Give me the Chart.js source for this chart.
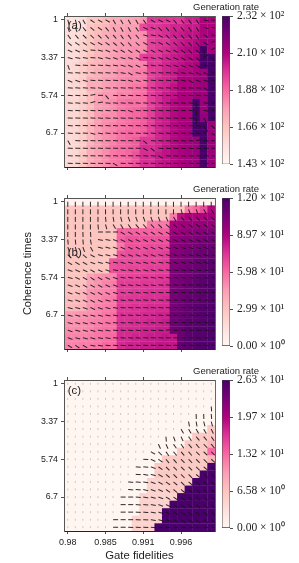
<!DOCTYPE html>
<html><head><meta charset="utf-8">
<script src="https://cdn.jsdelivr.net/npm/chart.js@4/dist/chart.umd.js"></script>
<style>html,body{margin:0;padding:0;background:#fff;width:299px;height:563px;overflow:hidden}canvas{position:absolute;display:block}</style>
</head><body>
<script>
const xTickLabels = ['0.98','0.985','0.991','0.996'];
const yTickLabels = ['1','3.37','5.74','6.7'];
const tickPositions = [0,5,10,15];
const palette = ['#fff7f3','#fde0dd','#fcc5c0','#fa9fb5','#f768a1','#dd3497','#ae017e','#7a0177','#49006a'];

const rateA = [
[152,152,154,163,165,168,172,172,174,175,178,198,198,198,198,198,203,203,210,210],
[153,153,155,165,167,170,174,174,176,176,194,198,198,200,202,202,204,204,210,210],
[155,155,158,165,168,172,175,176,178,178,180,196,198,200,203,204,206,206,210,212],
[155,155,160,165,170,172,175,176,178,178,180,196,198,198,202,204,206,208,212,212],
[156,156,160,165,170,172,175,178,178,180,180,196,198,200,203,206,208,210,232,212],
[156,156,160,166,170,172,176,178,180,180,196,198,198,202,204,206,208,210,232,232],
[156,158,162,168,170,174,176,178,180,180,182,198,198,202,204,206,208,210,232,232],
[156,158,162,168,172,174,176,180,180,182,184,196,198,202,204,208,208,210,212,232],
[156,158,162,172,172,176,178,180,182,182,184,196,200,202,204,210,210,212,214,232],
[156,158,160,172,172,176,178,180,182,184,186,196,200,202,206,210,210,212,214,232],
[156,156,160,168,174,178,178,182,182,184,186,196,200,204,206,210,210,214,214,232],
[158,158,162,168,176,178,180,184,186,186,186,196,200,204,208,210,210,232,214,232],
[158,158,162,168,176,178,180,184,186,188,190,196,202,204,208,210,210,232,214,232],
[158,158,162,168,176,180,180,184,186,188,190,196,202,204,208,210,210,232,216,232],
[158,158,162,170,176,180,182,184,186,188,190,196,202,204,208,210,212,232,232,214],
[156,158,162,170,176,180,182,186,188,188,190,196,202,204,208,210,212,232,232,214],
[156,158,162,170,176,180,182,186,188,190,198,198,202,204,208,210,212,214,232,214],
[156,158,162,172,176,180,184,186,188,190,200,200,202,206,208,210,212,214,232,214],
[156,158,164,172,176,180,184,186,188,192,200,200,204,206,208,210,212,214,232,214],
[156,158,164,172,176,180,184,186,188,192,200,200,204,206,208,210,212,214,232,214]];

const angleA = [
[75,75,60,35,30,30,60,60,60,60,55,30,25,25,50,50,55,55,15,10],
[70,70,50,40,35,50,60,60,60,55,25,20,45,50,55,50,55,55,15,10],
[55,50,45,45,45,50,50,55,55,50,15,10,30,45,50,50,50,60,30,10],
[40,35,35,30,30,35,40,45,50,40,30,10,25,35,40,45,50,50,30,-20],
[25,25,20,5,15,25,25,30,35,30,25,30,25,25,30,35,45,40,80,-30],
[15,10,10,5,15,15,20,15,20,25,5,15,20,25,25,30,30,40,-30,50],
[70,5,5,5,5,10,10,15,25,25,10,10,10,15,20,25,25,30,10,5],
[5,5,5,5,5,5,5,10,30,10,10,5,5,5,10,10,15,20,20,5],
[25,20,15,5,5,5,5,5,15,15,10,5,5,5,5,10,30,20,15,5],
[5,5,5,5,10,5,5,5,5,5,5,5,5,5,5,5,5,5,30,5],
[5,5,5,-10,0,50,5,5,5,5,5,5,5,5,5,5,5,5,5,5],
[5,5,5,-15,-10,5,5,5,5,5,5,5,5,5,5,5,5,80,5,5],
[5,5,5,5,5,5,5,5,20,5,5,5,5,5,5,5,5,85,10,5],
[3,3,3,3,5,5,5,5,5,5,5,5,5,5,5,5,5,85,60,5],
[5,3,3,3,5,5,5,5,5,5,5,5,5,5,5,5,5,10,60,40],
[5,5,3,15,10,5,5,5,5,5,5,5,5,5,5,5,5,5,-30,30],
[60,3,3,3,3,3,3,3,3,3,40,5,5,5,5,5,5,-10,5,5],
[3,3,3,3,3,3,3,3,3,3,30,40,5,5,5,5,5,3,3,3],
[3,3,3,3,3,3,3,3,3,3,5,5,30,5,5,5,5,3,3,3],
[3,3,3,3,3,3,30,3,3,3,3,3,3,3,3,3,3,3,3,3]];

const rateB = [
[3,3,3,3,3,3,3,3,3,3,3,3,3,3,3,3,3,3,3,3],
[30,30,30,30,30,30,30,30,30,30,30,30,30,30,30,30,55,60,68,88],
[30,30,30,30,30,30,30,30,30,30,30,30,30,30,55,86,90,90,90,94],
[30,30,30,30,30,30,30,30,30,30,30,55,55,55,90,94,94,96,96,96],
[30,30,30,30,30,30,30,62,62,62,62,62,62,62,94,96,98,100,102,104],
[30,30,30,30,30,30,30,62,66,66,66,66,66,66,98,100,102,104,106,108],
[30,30,30,30,30,30,30,56,66,66,66,68,68,68,100,102,104,106,108,110],
[30,30,30,30,30,30,30,66,68,68,68,70,70,72,102,102,106,108,110,112],
[30,30,30,30,30,30,66,68,68,68,70,70,70,72,102,104,106,110,112,114],
[30,30,30,30,30,30,66,68,70,70,70,72,72,72,104,106,108,110,112,114],
[30,30,30,44,48,50,52,70,70,70,72,72,74,74,104,106,108,112,114,116],
[32,32,32,44,48,52,54,72,72,72,74,74,74,76,104,106,110,112,114,116],
[32,32,36,48,50,52,54,72,72,74,74,76,76,76,106,108,110,112,114,116],
[34,34,36,48,50,54,56,74,74,74,76,76,76,78,106,108,112,112,114,116],
[34,36,38,48,52,54,56,74,74,76,76,78,78,78,106,108,112,114,116,116],
[46,46,48,50,52,56,58,76,76,76,78,78,80,80,108,110,112,114,116,118],
[48,48,50,52,54,56,58,76,76,78,78,80,80,82,108,110,114,114,116,118],
[50,50,50,52,56,58,58,78,78,78,80,80,82,82,108,110,114,116,116,118],
[52,52,52,54,56,58,60,78,78,80,80,82,82,84,84,110,114,116,116,118],
[52,52,54,54,56,60,60,78,80,80,82,82,84,84,84,112,114,116,118,118]];

const angleB = [
[90,90,90,90,90,90,90,90,90,90,90,90,90,90,90,90,90,90,90,90],
[90,90,90,90,90,90,90,90,90,90,90,90,90,90,90,75,70,70,60,60],
[90,90,90,90,90,85,80,75,70,70,70,70,70,65,60,50,50,45,45,45],
[90,90,90,90,85,75,60,60,55,50,50,45,45,40,40,40,35,35,35,35],
[90,90,88,85,0,0,0,30,30,30,30,30,30,30,30,30,30,30,30,25],
[85,85,85,80,10,10,20,25,25,25,25,25,25,25,25,25,25,25,25,20],
[70,75,70,60,15,15,20,25,25,25,25,25,25,20,20,20,20,20,20,20],
[45,45,40,30,15,15,15,20,20,20,20,20,15,15,15,15,15,15,15,15],
[30,30,30,20,15,15,10,15,15,15,15,15,10,15,15,15,15,15,15,15],
[20,25,25,30,25,20,10,10,15,15,15,15,10,10,10,10,10,10,10,10],
[15,25,30,35,30,25,20,10,10,10,10,10,10,10,10,10,10,10,10,10],
[20,25,30,30,30,25,20,10,10,10,10,10,5,5,5,5,5,5,5,5],
[20,20,25,25,30,25,15,8,8,8,8,5,5,5,5,5,5,5,5,5],
[15,20,25,30,25,15,10,8,5,5,5,5,5,5,5,5,5,5,5,5],
[15,15,20,25,20,15,10,5,5,5,5,5,5,5,5,5,5,5,5,5],
[15,15,15,15,15,10,10,5,5,5,5,5,5,5,5,5,5,5,5,5],
[15,15,15,15,15,10,5,5,5,5,5,5,5,5,3,3,3,3,3,3],
[20,15,15,15,10,10,5,5,5,5,5,5,5,-5,3,3,3,3,3,3],
[20,15,15,15,10,10,5,5,5,5,3,3,3,3,3,3,3,3,3,3],
[30,35,30,10,10,5,5,5,3,3,3,3,3,3,3,3,3,3,3,3]];

const rateC = [
[.3,.3,.3,.3,.3,.3,.3,.3,.3,.3,.3,.3,.3,.3,.3,.3,.3,.3,.3,.3],
[.3,.3,.3,.3,.3,.3,.3,.3,.3,.3,.3,.3,.3,.3,.3,.3,.3,.3,.3,.3],
[.3,.3,.3,.3,.3,.3,.3,.3,.3,.3,.3,.3,.3,.3,.3,.3,.3,.3,.3,.3],
[.3,.3,.3,.3,.3,.3,.3,.3,.3,.3,.3,.3,.3,.3,.3,.3,.3,.3,.3,.3],
[.3,.3,.3,.3,.3,.3,.3,.3,.3,.3,.3,.3,.3,.3,.3,.3,.3,.3,.3,.3],
[.3,.3,.3,.3,.3,.3,.3,.3,.3,.3,.3,.3,.3,.3,.3,.3,.3,.3,.3,.3],
[.3,.3,.3,.3,.3,.3,.3,.3,.3,.3,.3,.3,.3,.3,.3,.3,.3,.3,.3,6],
[.3,.3,.3,.3,.3,.3,.3,.3,.3,.3,.3,.3,.3,.3,.3,.3,.3,6,6,6],
[.3,.3,.3,.3,.3,.3,.3,.3,.3,.3,.3,.3,.3,.3,.3,.3,6,6,6,8],
[.3,.3,.3,.3,.3,.3,.3,.3,.3,.3,.3,.3,.3,.3,.3,6,6,6,6,13],
[.3,.3,.3,.3,.3,.3,.3,.3,.3,.3,.3,.3,.3,6,6,6,6,6,6,8],
[.3,.3,.3,.3,.3,.3,.3,.3,.3,.3,.3,.3,6,6,6,6,6,6,6,26.3],
[.3,.3,.3,.3,.3,.3,.3,.3,.3,.3,.3,.3,6,6,6,6,6,6,26.3,26.3],
[.3,.3,.3,.3,.3,.3,.3,.3,.3,.3,.3,5,5,6,6,6,6,26.3,26.3,26.3],
[.3,.3,.3,.3,.3,.3,.3,.3,.3,.3,.3,5,5,5,6,6,26.3,26.3,26.3,26.3],
[.3,.3,.3,.3,.3,.3,.3,.3,.3,.3,5,5,5,5,5,26.3,26.3,26.3,26.3,26.3],
[.3,.3,.3,.3,.3,.3,.3,.3,.3,.3,5,5,5,5,26.3,26.3,26.3,26.3,26.3,26.3],
[.3,.3,.3,.3,.3,.3,.3,.3,.3,.3,5,5,5,26.3,26.3,26.3,26.3,26.3,26.3,26.3],
[.3,.3,.3,.3,.3,.3,.3,.3,.3,5,5,5,5,26.3,26.3,26.3,26.3,26.3,26.3,26.3],
[.3,.3,.3,.3,.3,.3,.3,.3,.3,5,5,5,26.3,26.3,26.3,26.3,26.3,26.3,26.3,26.3]];

const arrowStartC = [99,99,99,19,17,16,15,13,12,11,10,9,9,8,8,7,7,7,6,6];
const angleC = [
[90,90,90,90,90,90,90,90,90,90,90,90,90,90,90,90,90,90,90,90],
[90,90,90,90,90,90,90,90,90,90,90,90,90,90,90,90,90,90,90,90],
[90,90,90,90,90,90,90,90,90,90,90,90,90,90,90,90,90,90,90,90],
[90,90,90,90,90,90,90,90,90,90,90,90,90,90,90,90,90,90,90,85],
[90,90,90,90,90,90,90,90,90,90,90,90,90,90,90,90,90,88,88,85],
[90,90,90,90,90,90,90,90,90,90,90,90,90,90,90,90,80,80,75,75],
[90,90,90,90,90,90,90,90,90,90,90,90,90,90,90,60,60,60,60,65],
[90,90,90,90,90,90,90,90,90,90,90,90,90,85,70,65,55,50,50,55],
[90,90,90,90,90,90,90,90,90,90,90,90,65,65,55,55,50,50,45,50],
[90,90,90,90,90,90,90,90,90,90,90,30,45,55,50,50,50,45,45,45],
[90,90,90,90,90,90,90,90,90,90,3,25,35,50,50,45,45,45,45,40],
[90,90,90,90,90,90,90,90,90,5,5,20,35,45,45,45,45,45,40,40],
[90,90,90,90,90,90,90,90,90,3,10,15,30,40,45,45,45,40,40,40],
[90,90,90,90,90,90,90,90,5,5,10,20,30,35,40,45,40,40,40,40],
[90,90,90,90,90,90,90,90,5,5,15,20,25,35,40,40,40,40,40,40],
[90,90,90,90,90,90,90,0,0,5,10,15,20,30,35,40,40,40,40,40],
[90,90,90,90,90,90,90,0,0,5,5,10,20,25,35,40,40,40,40,40],
[90,90,90,90,90,90,90,0,0,3,5,10,15,25,30,35,40,40,40,40],
[90,90,90,90,90,90,0,0,0,3,3,10,15,20,25,30,35,35,35,35],
[90,90,90,90,90,90,0,0,3,3,3,5,5,5,5,5,5,5,5,5]];

const panels = [
  {id:'a', top:16, rate:rateA, angle:angleA, start:null, min:143, max:232, tag:'(a)', tagRow:0.8,
   cbTicks:[143,165.25,187.5,209.75,232], cbLabels:['1.43 × 10²','1.66 × 10²','1.88 × 10²','2.10 × 10²','2.32 × 10²']},
  {id:'b', top:198, rate:rateB, angle:angleB, start:null, min:0, max:120, tag:'(b)', tagRow:6.8,
   cbTicks:[0,30,60,90,120], cbLabels:['0.00 × 10⁰','2.99 × 10¹','5.98 × 10¹','8.97 × 10¹','1.20 × 10²']},
  {id:'c', top:380, rate:rateC, angle:angleC, start:arrowStartC, min:0, max:26.3, tag:'(c)', tagRow:0.9,
   cbTicks:[0,6.575,13.15,19.725,26.3], cbLabels:['0.00 × 10⁰','6.58 × 10⁰','1.32 × 10¹','1.97 × 10¹','2.63 × 10¹']}
];

const SANS = '"Liberation Sans", sans-serif';
const SERIF = '"Liberation Serif", serif';
const INK = '#222';

function hex(c){return [1,3,5].map(i=>parseInt(c.substr(i,2),16));}
function colorOf(v,min,max){
  const t=Math.max(0,Math.min(1,(v-min)/(max-min)))*(palette.length-1);
  const i=Math.min(palette.length-2,Math.floor(t)),f=t-i;
  const a=hex(palette[i]),b=hex(palette[i+1]);
  return 'rgb('+a.map((x,k)=>Math.round(x+(b[k]-x)*f)).join(',')+')';
}
const arrowCache={};
function arrowSprite(len){
  if(arrowCache[len])return arrowCache[len];
  const c=document.createElement('canvas');
  c.width=len*2+4;c.height=7;
  const g=c.getContext('2d');const cx=c.width/2,cy=3.5;
  if(len===0){
    g.fillStyle='rgba(60,60,60,0.5)';g.fillRect(cx-0.5,cy-0.5,1,1);
  }else{
    g.strokeStyle='rgba(20,20,20,1)';g.lineWidth=0.9;
    g.beginPath();g.moveTo(cx,cy);g.lineTo(cx+len,cy);g.stroke();
  }
  return arrowCache[len]=c;
}
const tagPlugin={id:'panelTag',afterDraw(chart){
  const t=chart.options.plugins.panelTag; if(!t||!t.text)return;
  const ctx=chart.ctx;ctx.save();ctx.font='11.5px '+SANS;ctx.fillStyle=INK;ctx.textBaseline='middle';
  ctx.fillText(t.text,chart.scales.x.getPixelForValue(0),chart.scales.y.getPixelForValue(t.row));ctx.restore();
}};

panels.forEach((p,pi)=>{
  const cells=[],cellColors=[],arrows=[],sprites=[],rots=[];
  p.rate.forEach((row,r)=>row.forEach((v,c)=>{
    cells.push({x:c,y:[r-0.52,r+0.52]});cellColors.push(colorOf(v,p.min,p.max));
    arrows.push({x:c,y:r});
    const on=p.start?c>=p.start[r]:true;
    sprites.push(arrowSprite(on?5:0));rots.push(p.angle[r][c]);
  }));
  const isLast=pi===2;
  const cv=document.createElement('canvas');
  cv.style.left='0px';cv.style.top=(p.top-12)+'px';
  cv.width=222;cv.height=isLast?195:175;cv.style.width='222px';cv.style.height=cv.height+'px';
  document.body.appendChild(cv);
  new Chart(cv,{
    type:'bar',
    plugins:[tagPlugin],
    data:{datasets:[
      {type:'scatter',data:arrows,showLine:false,order:0,pointStyle:sprites,rotation:rots,pointRadius:1,xAxisID:'x',yAxisID:'y'},
      {type:'bar',data:cells,backgroundColor:cellColors,borderWidth:0,barPercentage:1.05,categoryPercentage:1,order:1,xAxisID:'x',yAxisID:'y'}
    ]},
    options:{
      responsive:false,animation:false,devicePixelRatio:1,events:[],
      layout:{padding:0},
      plugins:{legend:{display:false},tooltip:{enabled:false},panelTag:{text:p.tag,row:p.tagRow}},
      scales:{
        x:{type:'linear',position:'bottom',min:-0.5,max:19.5,offset:false,
          afterBuildTicks:s=>{s.ticks=tickPositions.map(v=>({value:v}));},
          afterFit:s=>{s.height=isLast?32:12;},
          border:{display:true,color:INK,width:1,z:2},
          grid:{drawOnChartArea:false,offset:false,tickLength:3,tickColor:INK,tickWidth:0.8},
          ticks:{display:isLast,autoSkip:false,maxRotation:0,padding:3,color:INK,font:{family:SANS,size:9},
            callback:v=>xTickLabels[tickPositions.indexOf(v)]},
          title:{display:isLast,text:'Gate fidelities',color:INK,font:{family:SANS,size:11.3},padding:{top:1,bottom:0}}},
        xTop:{type:'linear',axis:'x',position:'top',min:-0.5,max:19.5,offset:false,
          afterBuildTicks:s=>{s.ticks=tickPositions.map(v=>({value:v}));},
          afterFit:s=>{s.height=12;},
          border:{display:true,color:'#555',width:1,z:2},
          grid:{drawOnChartArea:false,offset:false,tickLength:3,tickColor:INK,tickWidth:0.8},
          ticks:{display:false}},
        y:{type:'linear',position:'left',min:-0.5,max:19.5,reverse:true,
          afterBuildTicks:s=>{s.ticks=tickPositions.map(v=>({value:v}));},
          afterFit:s=>{s.width=64;},
          border:{display:true,color:'#555',width:1,z:2},
          grid:{drawOnChartArea:false,tickLength:3,tickColor:INK,tickWidth:0.8},
          ticks:{autoSkip:false,padding:3,color:INK,font:{family:SANS,size:8.8},
            callback:v=>yTickLabels[tickPositions.indexOf(v)]},
          title:{display:p.id==='b',text:'Coherence times',color:INK,font:{family:SANS,size:11},padding:{top:21,bottom:0}}},
        yRight:{type:'linear',axis:'y',position:'right',min:-0.5,max:19.5,
          afterFit:s=>{s.width=7;},
          border:{display:true,color:'#666',width:1,z:2},
          grid:{display:false},ticks:{display:false}}
      }
    }
  });

  const cb=document.createElement('canvas');
  cb.style.left='193px';cb.style.top=(p.top-14)+'px';
  cb.width=106;cb.height=173;cb.style.width='106px';cb.style.height='173px';
  document.body.appendChild(cb);
  new Chart(cb,{
    type:'bar',
    data:{labels:[''],datasets:[{data:[[p.min,p.max]],yAxisID:'yBar',xAxisID:'xBar',barPercentage:1,categoryPercentage:1,
      borderSkipped:false,borderWidth:0.8,borderColor:'#444',
      backgroundColor:ctx=>{
        const a=ctx.chart.chartArea; if(!a)return palette[4];
        const g=ctx.chart.ctx.createLinearGradient(0,a.bottom,0,a.top);
        palette.forEach((c,i)=>g.addColorStop(i/(palette.length-1),c));
        return g;
      }}]},
    options:{
      responsive:false,animation:false,devicePixelRatio:1,events:[],
      layout:{padding:0},
      plugins:{legend:{display:false},tooltip:{enabled:false},
        title:{display:true,text:'Generation rate',align:'start',color:INK,font:{family:SANS,size:9.5,weight:'normal',lineHeight:1.2},padding:{top:0,bottom:2.6}}},
      scales:{
        xBar:{type:'category',position:'bottom',afterFit:s=>{s.height=8;},border:{display:false},grid:{display:false},ticks:{display:false}},
        yLeft:{type:'linear',axis:'y',position:'left',afterFit:s=>{s.width=29;},border:{display:false},grid:{display:false},ticks:{display:false}},
        yBar:{type:'linear',position:'right',min:p.min,max:p.max,
          afterBuildTicks:s=>{s.ticks=p.cbTicks.map(v=>({value:v}));},
          afterFit:s=>{s.width=69;},
          border:{display:false},
          grid:{drawOnChartArea:false,tickLength:3,tickColor:INK,tickWidth:0.8},
          ticks:{autoSkip:false,padding:4,color:INK,font:{family:SERIF,size:11.5},
            callback:v=>p.cbLabels[p.cbTicks.indexOf(v)]}}
      }
    }
  });
});
</script>
</body></html>
